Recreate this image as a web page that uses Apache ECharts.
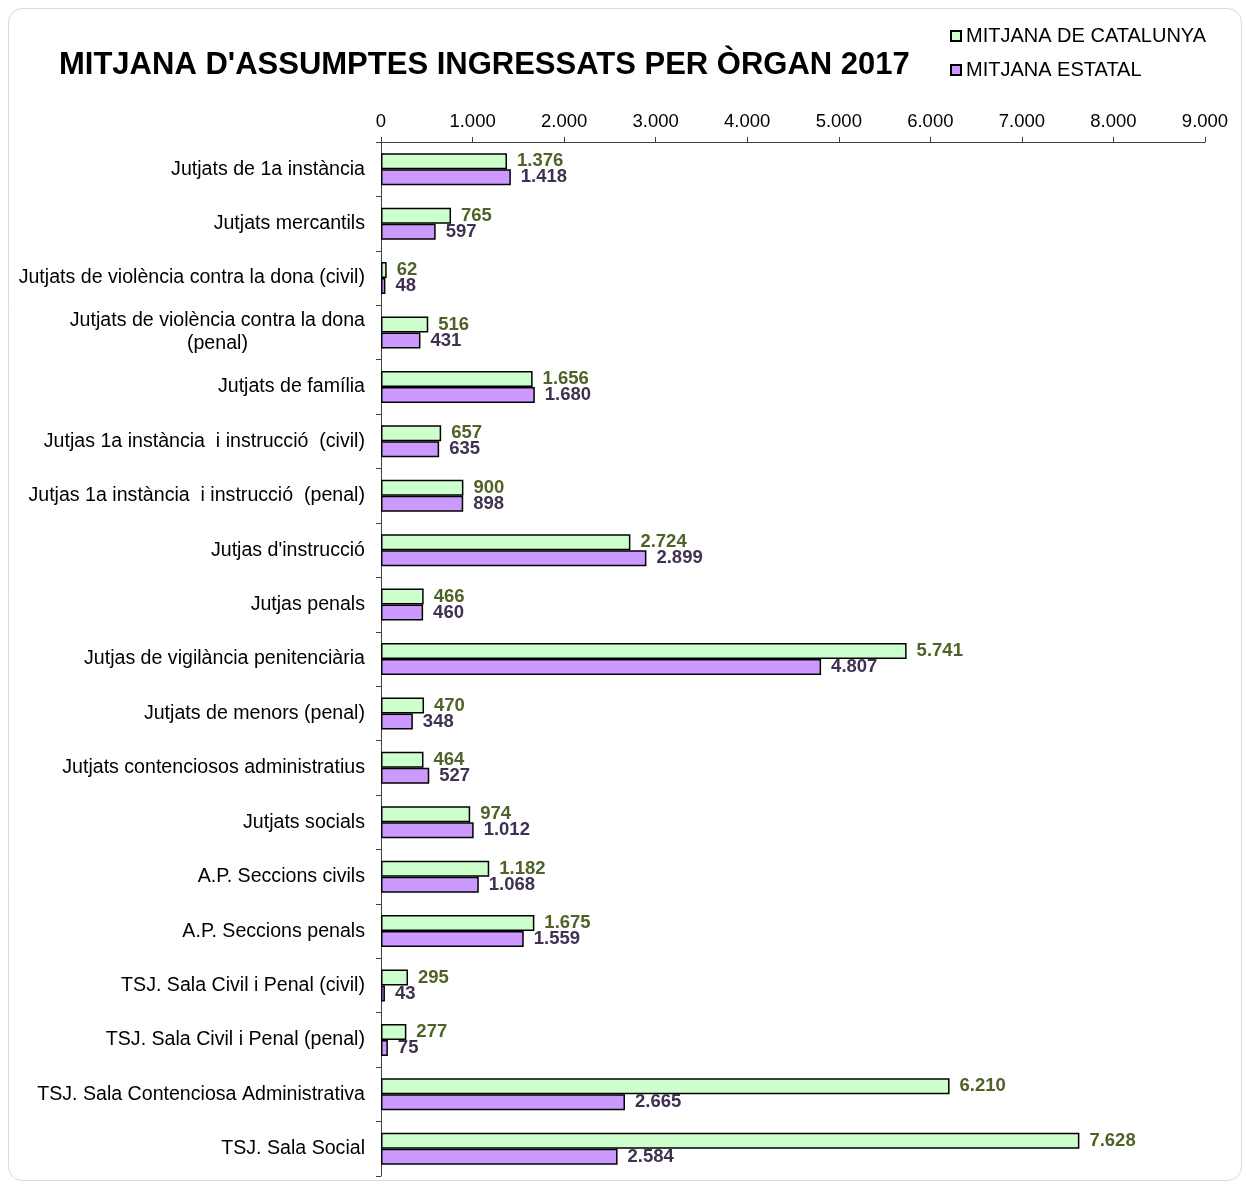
<!DOCTYPE html>
<html>
<head>
<meta charset="utf-8">
<script src="https://cdn.jsdelivr.net/npm/echarts@6/dist/echarts.min.js"></script>
<style>
  html, body { margin: 0; padding: 0; background: #fff; }
  #chart { width: 1246px; height: 1184px; }
</style>
</head>
<body>
<div id="chart"></div>
<script>
const categories = [
    'Jutjats de 1a instància',
    'Jutjats mercantils',
    'Jutjats de violència contra la dona (civil)',
    'Jutjats de violència contra la dona\n(penal)',
    'Jutjats de família',
    'Jutjas 1a instància  i instrucció  (civil)',
    'Jutjas 1a instància  i instrucció  (penal)',
    "Jutjas d'instrucció",
    'Jutjas penals',
    'Jutjas de vigilància penitenciària',
    'Jutjats de menors (penal)',
    'Jutjats contenciosos administratius',
    'Jutjats socials',
    'A.P. Seccions civils',
    'A.P. Seccions penals',
    'TSJ. Sala Civil i Penal (civil)',
    'TSJ. Sala Civil i Penal (penal)',
    'TSJ. Sala Contenciosa Administrativa',
    'TSJ. Sala Social',
]
const catalunya = [1376, 765, 62, 516, 1656, 657, 900, 2724, 466, 5741, 470, 464, 974, 1182, 1675, 295, 277, 6210, 7628]
const estatal = [1418, 597, 48, 431, 1680, 635, 898, 2899, 460, 4807, 348, 527, 1012, 1068, 1559, 43, 75, 2665, 2584]
const xTicks = { min: 0, max: 9000, interval: 1000 }

const FONT = 'Arial, "Liberation Sans", sans-serif'

// punt com a separador de milers
function fmt(n) {
    return String(n).replace(/\B(?=(\d{3})+(?!\d))/g, '.')
}

const chart = echarts.init(document.getElementById('chart'))

chart.setOption({
    animation: false,
    backgroundColor: '#fff',
    textStyle: { fontFamily: FONT },
    graphic: [
        {
            type: 'rect',
            left: 6,
            top: 6,
            shape: { width: 1233, height: 1172, r: 14 },
            style: { fill: 'none', stroke: '#d9d9d9', lineWidth: 1 },
            silent: true,
        },
    ],
    title: {
        text: "MITJANA D'ASSUMPTES INGRESSATS PER ÒRGAN 2017",
        left: 54,
        top: 45,
        textStyle: { fontFamily: FONT, fontSize: 31, fontWeight: 'bold', color: '#000' },
    },
    legend: {
        orient: 'vertical',
        left: 945,
        top: 21,
        itemWidth: 10,
        itemHeight: 10,
        itemGap: 14,
        icon: 'rect',
        textStyle: { fontFamily: FONT, fontSize: 20, color: '#000' },
        data: ['MITJANA DE CATALUNYA', 'MITJANA ESTATAL'],
    },
    grid: { left: 381, right: 41, top: 142, bottom: 8, containLabel: false },
    xAxis: {
        type: 'value',
        position: 'top',
        min: xTicks.min,
        max: xTicks.max,
        interval: xTicks.interval,
        axisLine: { show: true, lineStyle: { color: '#404040', width: 1 } },
        axisTick: { show: true, length: 5, lineStyle: { color: '#404040' } },
        splitLine: { show: false },
        axisLabel: {
            margin: 11,
            fontFamily: FONT,
            fontSize: 18.5,
            color: '#000',
            formatter: (v) => fmt(v),
        },
    },
    yAxis: {
        type: 'category',
        inverse: true,
        data: categories,
        axisLine: { show: true, lineStyle: { color: '#404040', width: 1 } },
        axisTick: { show: true, length: 5, lineStyle: { color: '#404040' } },
        axisLabel: {
            margin: 16,
            fontFamily: FONT,
            fontSize: 19.6,
            color: '#000',
            lineHeight: 23,
            formatter: (v) => v.split('\n').map((s) => '{c|' + s + '}').join('\n'),
            rich: {
                c: { align: 'center', fontFamily: FONT, fontSize: 19.6, color: '#000', lineHeight: 23 },
            },
        },
    },
    series: [
        {
            name: 'MITJANA DE CATALUNYA',
            type: 'bar',
            data: catalunya,
            barWidth: 16,
            barGap: '0%',
            itemStyle: { color: '#ccffcc', borderColor: '#000', borderWidth: 1.5 },
            label: {
                show: true,
                position: 'right',
                distance: 10,
                fontFamily: FONT,
                fontSize: 18.5,
                fontWeight: 'bold',
                color: '#4f6228',
                formatter: (p) => fmt(p.value),
            },
        },
        {
            name: 'MITJANA ESTATAL',
            type: 'bar',
            data: estatal,
            barWidth: 16,
            barGap: '0%',
            itemStyle: { color: '#cc99ff', borderColor: '#000', borderWidth: 1.5 },
            label: {
                show: true,
                position: 'right',
                distance: 10,
                fontFamily: FONT,
                fontSize: 18.5,
                fontWeight: 'bold',
                color: '#403152',
                formatter: (p) => fmt(p.value),
            },
        },
    ],
})

window.addEventListener('resize', () => chart.resize())
</script>
</body>
</html>
